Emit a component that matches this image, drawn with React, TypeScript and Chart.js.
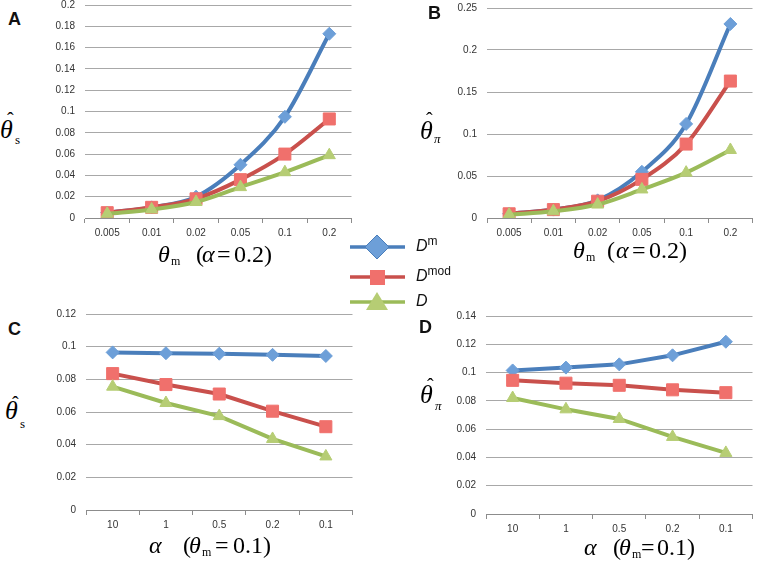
import React, { useEffect, useRef } from "react";
import { Chart, registerables } from "chart.js";
Chart.register(...registerables);

// ---- data ----
const thetaMCats = ["0.005", "0.01", "0.02", "0.05", "0.1", "0.2"];
const alphaCats = ["10", "1", "0.5", "0.2", "0.1"];

const aDm = [0.005, 0.01, 0.02, 0.05, 0.095, 0.173];
const aDmod = [0.005, 0.01, 0.018, 0.036, 0.06, 0.093];
const aD = [0.004, 0.008, 0.015, 0.029, 0.043, 0.059];

const bDm = [0.005, 0.01, 0.021, 0.055, 0.112, 0.231];
const bDmod = [0.005, 0.01, 0.02, 0.046, 0.088, 0.163];
const bD = [0.004, 0.008, 0.016, 0.034, 0.054, 0.081];

const cDm = [0.0965, 0.096, 0.0957, 0.095, 0.0943];
const cDmod = [0.0835, 0.0768, 0.071, 0.0605, 0.051];
const cD = [0.0755, 0.0655, 0.0575, 0.0435, 0.0328];

const dDm = [0.1015, 0.1035, 0.1058, 0.1122, 0.1218];
const dDmod = [0.0945, 0.0925, 0.091, 0.0878, 0.0858];
const dD = [0.082, 0.074, 0.0672, 0.0545, 0.0432];

const seriesNames = ["Dm", "Dmod", "D"];

const BLUE = "#4a7ebb";
const BLUE_FILL = "#6d9fd8";
const RED = "#c9504c";
const RED_FILL = "#f0706c";
const GREEN = "#9bbb59";
const GREEN_FILL = "#b6cd74";

type Box = { left: number; top: number; w: number; h: number };

const Y_W = 60;
const PAD_T = 12;
const TOP_OFF = 16;
const X_H = 40;
const R_OFF = 9;

function PanelChart(props: {
  cats: string[];
  vals: number[][];
  yMax: number;
  step: number;
  plot: Box;
  tension: number;
}) {
  const ref = useRef<HTMLCanvasElement>(null);
  const { cats, vals, yMax, step, plot, tension } = props;
  useEffect(() => {
    if (!ref.current) return;
    const styles = [
      { c: BLUE, f: BLUE_FILL, ps: "rectRot", r: 6.5 },
      { c: RED, f: RED_FILL, ps: "rect", r: 8.5 },
      { c: GREEN, f: GREEN_FILL, ps: "triangle", r: 7 },
    ];
    const chart = new Chart(ref.current, {
      type: "line",
      data: {
        labels: cats,
        datasets: vals.map((v, i) => ({
          label: seriesNames[i],
          data: v,
          borderColor: styles[i].c,
          backgroundColor: styles[i].f,
          pointBackgroundColor: styles[i].f,
          pointBorderColor: styles[i].f,
          pointBorderWidth: 1,
          pointStyle: styles[i].ps as any,
          pointRadius: styles[i].r,
          borderWidth: 4,
          tension: tension,
          cubicInterpolationMode: (tension > 0 ? "monotone" : "default") as any,
          order: 3 - i,
        })),
      },
      options: {
        animation: false,
        responsive: false,
        maintainAspectRatio: false,
        layout: { padding: { top: PAD_T, right: 0, left: 0, bottom: 0 } },
        plugins: { legend: { display: false }, tooltip: { enabled: false } },
        scales: {
          x: {
            offset: true,
            grid: {
              offset: true,
              drawOnChartArea: false,
              drawTicks: true,
              tickLength: 5,
              color: "#8c8c8c",
            },
            border: { display: true, color: "#8c8c8c" },
            ticks: {
              color: "#333",
              padding: 4,
              font: { family: "Liberation Sans", size: 10 },
              maxRotation: 0,
            },
            afterFit: (s: any) => {
              s.height = X_H;
            },
          },
          y: {
            min: 0,
            max: yMax,
            ticks: {
              stepSize: step,
              color: "#333",
              padding: 10,
              font: { family: "Liberation Sans", size: 10 },
              callback: (v: any) => String(+Number(v).toFixed(3)),
            },
            grid: { color: "#a8a8a8", drawTicks: false, lineWidth: 1 },
            border: { display: false },
            afterFit: (s: any) => {
              s.width = Y_W;
            },
          },
        },
      },
    });
    return () => chart.destroy();
  }, []);
  const cw = Y_W + plot.w + R_OFF;
  const ch = TOP_OFF + plot.h + X_H;
  return (
    <canvas
      ref={ref}
      width={cw}
      height={ch}
      style={{
        position: "absolute",
        left: plot.left - Y_W,
        top: plot.top - TOP_OFF,
        width: cw,
        height: ch,
      }}
    />
  );
}

const serif = "'Liberation Serif', 'DejaVu Serif', serif";

type Piece = { t: string; x: number; y: number; s: number; it?: boolean };

function MathText(props: { pieces: Piece[] }) {
  return (
    <>
      {props.pieces.map((p, i) => (
        <span
          key={i}
          style={{
            position: "absolute",
            left: p.x,
            top: p.y,
            fontFamily: serif,
            fontSize: p.s,
            lineHeight: p.s + "px",
            fontStyle: p.it ? "italic" : "normal",
            whiteSpace: "pre",
            color: "#000",
          }}
        >
          {p.t}
        </span>
      ))}
    </>
  );
}

// y title: theta-hat with subscript; (x,y) = glyph top-left of theta
function yTitle(x: number, y: number, hx: number, hy: number, sub: string, sx: number, sy: number, subIt: boolean): Piece[] {
  return [
    { t: "θ", x: x - 2, y: y - 4, s: 26, it: true },
    { t: "ˆ", x: hx - 1, y: hy - 3, s: 20 },
    { t: sub, x: sx, y: sy - 5, s: 13, it: subIt },
  ];
}

// x title theta_m (alpha = 0.2)
function xTitleTheta(ty: number, tx: number, mx: number, po: number, ax: number, ex: number, nx: number): Piece[] {
  return [
    { t: "θ", x: tx - 2, y: ty - 4, s: 24, it: true },
    { t: "m", x: mx, y: ty + 14 - 5, s: 12 },
    { t: "(", x: po - 1, y: ty - 4, s: 24 },
    { t: "α", x: ax - 1, y: ty - 4, s: 24, it: true },
    { t: "=", x: ex - 1, y: ty - 4, s: 24 },
    { t: "0.2)", x: nx - 1, y: ty - 4, s: 24 },
  ];
}

function xTitleAlpha(ty: number, ax: number, po: number, tx: number, mx: number, ex: number, nx: number): Piece[] {
  return [
    { t: "α", x: ax - 1, y: ty - 4, s: 24, it: true },
    { t: "(", x: po - 1, y: ty - 4, s: 24 },
    { t: "θ", x: tx - 2, y: ty - 4, s: 24, it: true },
    { t: "m", x: mx, y: ty + 14 - 5, s: 12 },
    { t: "=", x: ex - 1, y: ty - 4, s: 24 },
    { t: "0.1)", x: nx - 1, y: ty - 4, s: 24 },
  ];
}

function Letter(props: { left: number; top: number; t: string }) {
  return (
    <div style={{ position: "absolute", left: props.left, top: props.top, fontFamily: "'Liberation Sans', Arial, sans-serif", fontWeight: "bold", fontSize: 18, lineHeight: "18px", color: "#111" }}>
      {props.t}
    </div>
  );
}

function LegendItem(props: { y: number; color: string; fill: string; shape: string; label: string; sup?: string }) {
  const { y, color, fill, shape, label, sup } = props;
  let marker: any = null;
  if (shape === "diamond") marker = <polygon points="27,0 39,12 27,24 15,12" fill={fill} stroke={color} strokeWidth={1} />;
  if (shape === "square") marker = <rect x={20} y={5} width={15} height={15} fill={RED_FILL} />;
  if (shape === "triangle") marker = <polygon points="27,2 38,20 16,20" fill={fill} />;
  return (
    <div style={{ position: "absolute", left: 350, top: y - 12, height: 24, width: 110 }}>
      <svg width={56} height={24} style={{ position: "absolute", left: 0, top: 0 }}>
        <line x1={0} y1={12} x2={55} y2={12} stroke={color} strokeWidth={3.5} />
        {marker}
      </svg>
      <span style={{ position: "absolute", left: 66, top: 2, fontFamily: "'Liberation Sans', Arial, sans-serif", fontStyle: "italic", fontSize: 16, lineHeight: "18px", color: "#111", whiteSpace: "pre" }}>
        {label}
        <span style={{ fontStyle: "normal", fontSize: 12, position: "relative", top: -6 }}>{sup}</span>
      </span>
    </div>
  );
}

export default function App() {
  return (
    <div style={{ position: "absolute", left: 0, top: 0, width: 757, height: 561, background: "#fff", overflow: "hidden" }}>
      <PanelChart cats={thetaMCats} vals={[aDm, aDmod, aD]} yMax={0.2} step={0.02} tension={0.3} plot={{ left: 85, top: 5, w: 267, h: 213 }} />
      <PanelChart cats={thetaMCats} vals={[bDm, bDmod, bD]} yMax={0.25} step={0.05} tension={0.3} plot={{ left: 487, top: 8, w: 266, h: 210 }} />
      <PanelChart cats={alphaCats} vals={[cDm, cDmod, cD]} yMax={0.12} step={0.02} tension={0} plot={{ left: 86, top: 314, w: 267, h: 196 }} />
      <PanelChart cats={alphaCats} vals={[dDm, dDmod, dD]} yMax={0.14} step={0.02} tension={0} plot={{ left: 486, top: 316, w: 267, h: 198 }} />

      <Letter left={8} top={10} t="A" />
      <Letter left={428} top={4} t="B" />
      <Letter left={8} top={320} t="C" />
      <Letter left={419} top={318} t="D" />

      <MathText pieces={yTitle(2, 121, 8, 113, "s", 15, 138, false)} />
      <MathText pieces={yTitle(422, 122, 427, 113, "π", 434, 137, true)} />
      <MathText pieces={yTitle(7, 402, 13, 397, "s", 20, 422, false)} />
      <MathText pieces={yTitle(422, 386, 428, 379, "π", 435, 404, true)} />

      <MathText pieces={xTitleTheta(246, 160, 171, 197, 203, 218, 235)} />
      <MathText pieces={xTitleTheta(242, 575, 586, 608, 617, 633, 650)} />
      <MathText pieces={xTitleAlpha(537, 150, 184, 191, 202, 216, 234)} />
      <MathText pieces={xTitleAlpha(539, 585, 614, 621, 632, 642, 658)} />

      <LegendItem y={247} color={BLUE} fill={BLUE_FILL} shape="diamond" label="D" sup="m" />
      <LegendItem y={277} color={RED} fill={RED_FILL} shape="square" label="D" sup="mod" />
      <LegendItem y={302} color={GREEN} fill={GREEN_FILL} shape="triangle" label="D" />
    </div>
  );
}
